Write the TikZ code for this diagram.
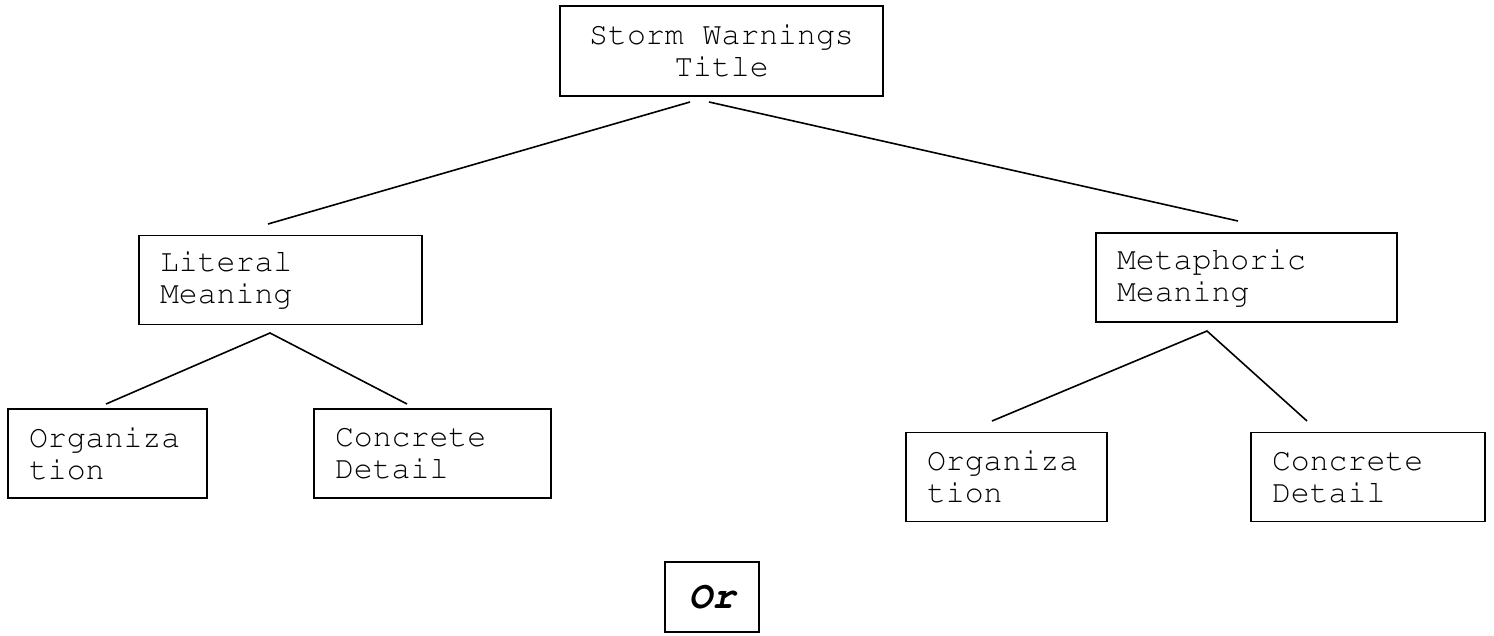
\documentclass[tikz,border=0pt]{standalone}
\usepackage[T1]{fontenc}
\usepackage{courier}
\usetikzlibrary{positioning}
\newcommand\fullspace{\hspace{0.6em}}% one typewriter character
\tikzset{
  box/.style = {draw=black, line width=1.6pt, inner xsep=21pt, inner ysep=0pt,
    font=\ttfamily\fontsize{31.5}{32}\selectfont},
  titlebox/.style = {box, align=center, text width=281pt, minimum height=90pt},% racine
  leftbox/.style = {box, align=left, minimum height=89pt},% texte a gauche
  orbox/.style = {box, inner xsep=0pt, minimum width=94pt, minimum height=70pt,
    font=\ttfamily\bfseries\itshape\fontsize{39}{40}\selectfont},
  link/.style = {line width=1.6pt}
}

\begin{document}
\begin{tikzpicture}[x=1pt,y=-1pt]
\useasboundingbox (0,0) rectangle (1494,635);
% boxes
\node [titlebox] (title) at (721.5,51) {Storm\fullspace Warnings\\Title};
\node [leftbox, text width=241pt] (literal) at (280.5,280) {Literal\\Meaning};
\node [leftbox, text width=259pt] (metaphoric) at (1246.5,277.5) {Metaphoric\\Meaning};
\node [leftbox, text width=157pt] (orgleft) at (107.5,453.5) {Organiza\\tion};
\node [leftbox, text width=195pt] (concleft) at (432.5,453.5) {Concrete\\Detail};
\node [leftbox, text width=159pt] (orgright) at (1006.5,477) {Organiza\\tion};
\node [leftbox, text width=192pt] (concright) at (1368,477) {Concrete\\Detail};
\node [orbox] (or) at (712,597) {Or};
% line ends
\coordinate (title-l) at (690,102);
\coordinate (title-r) at (709,102);
\coordinate (literal-top) at (268,224);
\coordinate (metaphoric-top) at (1238,221);
\coordinate (literal-bot) at (270,333);
\coordinate (metaphoric-bot) at (1207,331);
\coordinate (orgleft-top) at (106,404);
\coordinate (concleft-top) at (407,404);
\coordinate (orgright-top) at (992,421);
\coordinate (concright-top) at (1307,421);
% links
\draw [link] (title-l) -- (literal-top);
\draw [link] (title-r) -- (metaphoric-top);
\draw [link] (orgleft-top) -- (literal-bot) -- (concleft-top);
\draw [link] (orgright-top) -- (metaphoric-bot) -- (concright-top);
\end{tikzpicture}
\end{document}
